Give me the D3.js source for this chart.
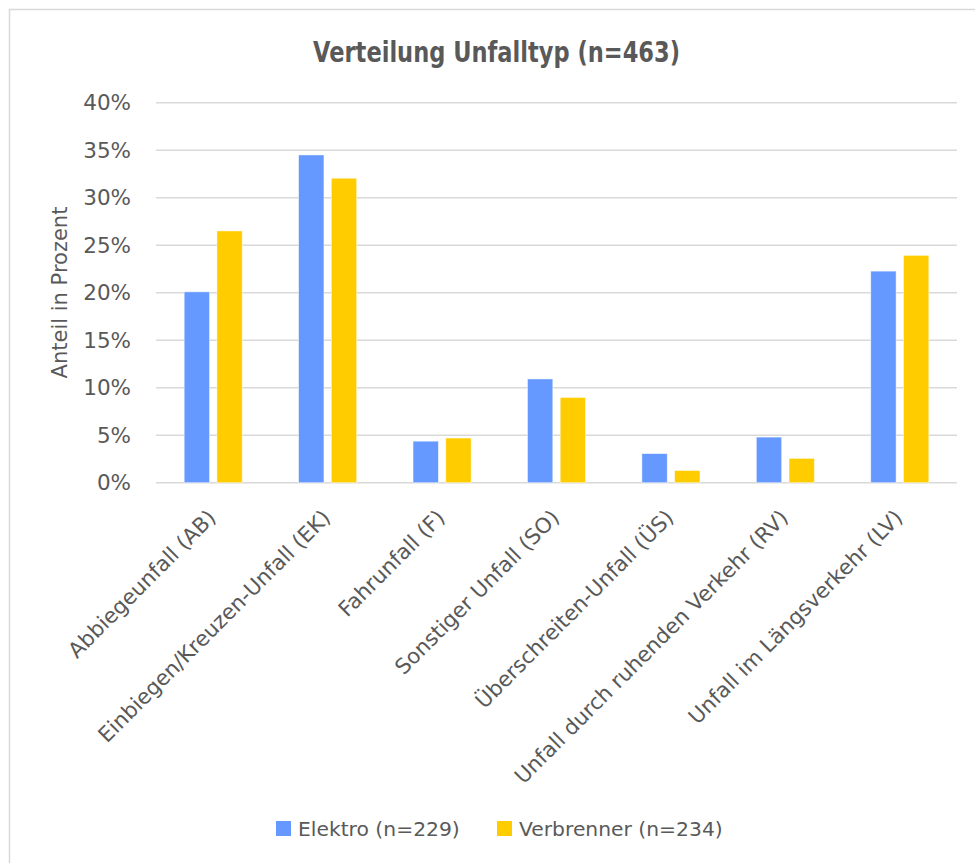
<!DOCTYPE html>
<html>
<head>
<meta charset="utf-8">
<script src="https://cdn.jsdelivr.net/npm/d3@7"></script>
<style>
  html, body { margin: 0; padding: 0; background: #fff; }
  svg { display: block; }
</style>
</head>
<body>
<svg id="chart" width="975" height="863"></svg>
<script>
// ---- Data ----
const categories = [
  "Abbiegeunfall (AB)",
  "Einbiegen/Kreuzen-Unfall (EK)",
  "Fahrunfall (F)",
  "Sonstiger Unfall (SO)",
  "Überschreiten-Unfall (ÜS)",
  "Unfall durch ruhenden Verkehr (RV)",
  "Unfall im Längsverkehr (LV)"
];
const seriesNames = ["Elektro (n=229)", "Verbrenner (n=234)"];
const elektro = [20.09, 34.50, 4.37, 10.92, 3.06, 4.80, 22.27];
const verbrenner = [26.50, 32.05, 4.70, 8.97, 1.28, 2.56, 23.93];
const yTicks = [0, 5, 10, 15, 20, 25, 30, 35, 40];
const titleText = "Verteilung Unfalltyp (n=463)";
const yAxisTitle = "Anteil in Prozent";

const colors = ["#6699FF", "#FFCC00"];
const textColor = "#595959";
const gridColor = "#d9d9d9";
const font = "'DejaVu Sans', sans-serif";

const svg = d3.select("#chart");

// chart border
svg.append("rect")
  .attr("x", 9.5).attr("y", 9.5)
  .attr("width", 980).attr("height", 870)
  .attr("fill", "#fff")
  .attr("stroke", gridColor).attr("stroke-width", 1.5);

const plot = { left: 156, right: 957, top: 102.7, bottom: 482.7 };

const x0 = d3.scaleBand()
  .domain(categories)
  .range([plot.left, plot.right])
  .paddingInner(0.4926)
  .paddingOuter(0.2463);

const x1 = d3.scaleBand()
  .domain(seriesNames)
  .range([0, x0.bandwidth()])
  .paddingInner(0.226);

const y = d3.scaleLinear().domain([0, 40]).range([plot.bottom, plot.top]);

// gridlines
svg.append("g").selectAll("line")
  .data(yTicks)
  .join("line")
  .attr("x1", plot.left).attr("x2", plot.right)
  .attr("y1", d => y(d)).attr("y2", d => y(d))
  .attr("stroke", gridColor).attr("stroke-width", 1.5);

// y tick labels
svg.append("g").selectAll("text")
  .data(yTicks)
  .join("text")
  .attr("x", 131)
  .attr("y", d => y(d))
  .attr("dy", "0.36em")
  .attr("text-anchor", "end")
  .attr("font-family", font)
  .attr("font-size", 21.5)
  .attr("fill", textColor)
  .text(d => d + "%");

// y axis title
svg.append("text")
  .attr("transform", `translate(67, 292.5) rotate(-90)`)
  .attr("text-anchor", "middle")
  .attr("font-family", font)
  .attr("font-size", 21)
  .attr("fill", textColor)
  .text(yAxisTitle);

// bars
const series = [elektro, verbrenner];
const groups = svg.append("g").selectAll("g")
  .data(categories)
  .join("g")
  .attr("transform", d => `translate(${x0(d)},0)`);

groups.selectAll("rect")
  .data((d, i) => seriesNames.map((s, j) => ({ s, v: series[j][i], j })))
  .join("rect")
  .attr("x", d => x1(d.s))
  .attr("width", x1.bandwidth())
  .attr("y", d => y(d.v))
  .attr("height", d => y(0) - y(d.v))
  .attr("fill", d => colors[d.j])
  .attr("stroke", "#ffffff")
  .attr("stroke-opacity", 0.6)
  .attr("stroke-width", 0.75);

// x labels
svg.append("g").selectAll("text")
  .data(categories)
  .join("text")
  .attr("transform", d => `translate(${x0(d) + x0.bandwidth() / 2 + 4}, 519) rotate(-45)`)
  .attr("text-anchor", "end")
  .attr("font-family", font)
  .attr("font-size", 21.2)
  .attr("fill", textColor)
  .text(d => d);

// title
svg.append("text")
  .attr("x", 496.5)
  .attr("y", 62)
  .attr("text-anchor", "middle")
  .attr("font-family", font)
  .attr("font-weight", "bold")
  .attr("font-size", 28)
  .attr("textLength", 367)
  .attr("lengthAdjust", "spacingAndGlyphs")
  .attr("fill", textColor)
  .text(titleText);

// legend
const legendX = [276, 497];
const legend = svg.append("g").selectAll("g")
  .data(seriesNames)
  .join("g")
  .attr("transform", (d, i) => `translate(${legendX[i]}, 821)`);
legend.append("rect")
  .attr("width", 15).attr("height", 15)
  .attr("fill", (d, i) => colors[i]);
legend.append("text")
  .attr("x", 22).attr("y", 15)
  .attr("font-family", font)
  .attr("font-size", 20.3)
  .attr("fill", textColor)
  .text(d => d);
</script>
</body>
</html>
